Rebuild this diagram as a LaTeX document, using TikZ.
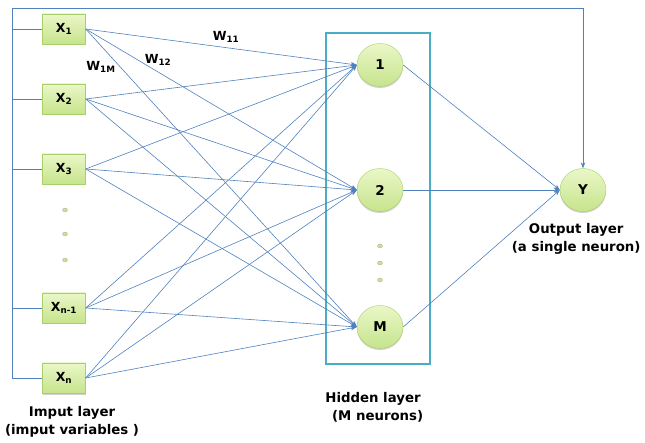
\documentclass[tikz,border=0pt]{standalone}
\usepackage{fontspec}
\setmainfont{DejaVu Sans}
\usetikzlibrary{arrows.meta,shapes.geometric,shadows}
\definecolor{lineblue}{HTML}{4F81BD}
\definecolor{boxtop}{HTML}{EAF7C8}
\definecolor{boxbot}{HTML}{C6E48C}
\definecolor{boxdraw}{HTML}{A9CF6A}
\definecolor{teal}{HTML}{4BACC6}
\tikzset{
  inbox/.style={draw=boxdraw, top color=boxtop, bottom color=boxbot, minimum width=43pt, minimum height=30pt, inner sep=0pt, font=\bfseries\fontsize{12.5}{12.5}\selectfont,
    drop shadow={shadow xshift=0pt, shadow yshift=-1.5pt, fill=gray!60, opacity=0.6}},
  neuron/.style={ellipse, draw=boxdraw, top color=boxtop, bottom color=boxbot, minimum width=46pt, minimum height=43pt, inner sep=0pt, font=\bfseries\fontsize{13.5}{13.5}\selectfont,
    drop shadow={shadow xshift=0pt, shadow yshift=-1.5pt, fill=gray!60, opacity=0.6}},
  conn/.style={draw=lineblue, line width=0.6pt},
  arr/.style={conn, -{Stealth[length=6pt,width=4.5pt]}},
  dotn/.style={ellipse, fill=boxbot, draw=gray!60, minimum width=5pt, minimum height=4pt, inner sep=0pt},
  lbl/.style={font=\bfseries\fontsize{13.3}{18}\selectfont, align=center},
  wlbl/.style={font=\bfseries\fontsize{12.5}{12.5}\selectfont}
}
\begin{document}
\begin{tikzpicture}[x=1pt,y=-1pt]
\useasboundingbox (0,0) rectangle (645,443);
% hidden layer rectangle
\node[draw=teal, line width=1.2pt, minimum width=104pt, minimum height=331pt, inner sep=0pt] (hid) at (378,198.5) {};
% inputs
\node[inbox] (x1) at (64,29) {X\textsubscript{1}};
\node[inbox] (x2) at (64,99) {X\textsubscript{2}};
\node[inbox] (x3) at (64,169) {X\textsubscript{3}};
\node[inbox] (xm) at (64,308) {X\textsubscript{n-1}};
\node[inbox] (xn) at (64,378) {X\textsubscript{n}};
\node[dotn] (d1) at (65,210) {};
\node[dotn] (d2) at (65,234) {};
\node[dotn] (d3) at (65,260) {};
% hidden
\node[neuron] (h1) at (380,65) {1};
\node[neuron] (h2) at (380,190) {2};
\node[neuron] (hM) at (380,327) {M};
\node[dotn] (e1) at (380,246) {};
\node[dotn] (e2) at (380,263) {};
\node[dotn] (e3) at (380,280) {};
% output
\node[neuron] (y) at (583,190) {Y};
% bus
\coordinate (bt) at (12,8);
\coordinate (tc) at (583,8);
\draw[conn] (xn.west) -- (xn.west -| bt) -- (bt) -- (tc);
\draw[arr] (tc) -- (y.north);
\foreach \n in {x1,x2,x3,xm}{
  \draw[conn] (\n.west) -- (\n.west -| bt);
}
% connections
\foreach \i in {x1,x2,x3,xm,xn}{
  \foreach \h in {h1,h2,hM}{
    \draw[arr] (\i.east) -- (\h.west);
  }
}
\foreach \h in {h1,h2,hM}{
  \draw[arr] (\h.east) -- (y.west);
}
% weight labels
\node[wlbl] (w11) at (226,37) {W\textsubscript{11}};
\node[wlbl] (w12) at (158,60) {W\textsubscript{12}};
\node[wlbl] (w1m) at (101,67) {W\textsubscript{1M}};
% layer labels
\node[lbl] (il) at (72,422) {Imput layer\\(imput variables )};
\node[lbl] (hl) at (373,407) {Hidden layer\\\ \ (M neurons)};
\node[lbl, anchor=east] (ol) at (644,239) {Output layer\\(a single neuron)};
\end{tikzpicture}
\end{document}
